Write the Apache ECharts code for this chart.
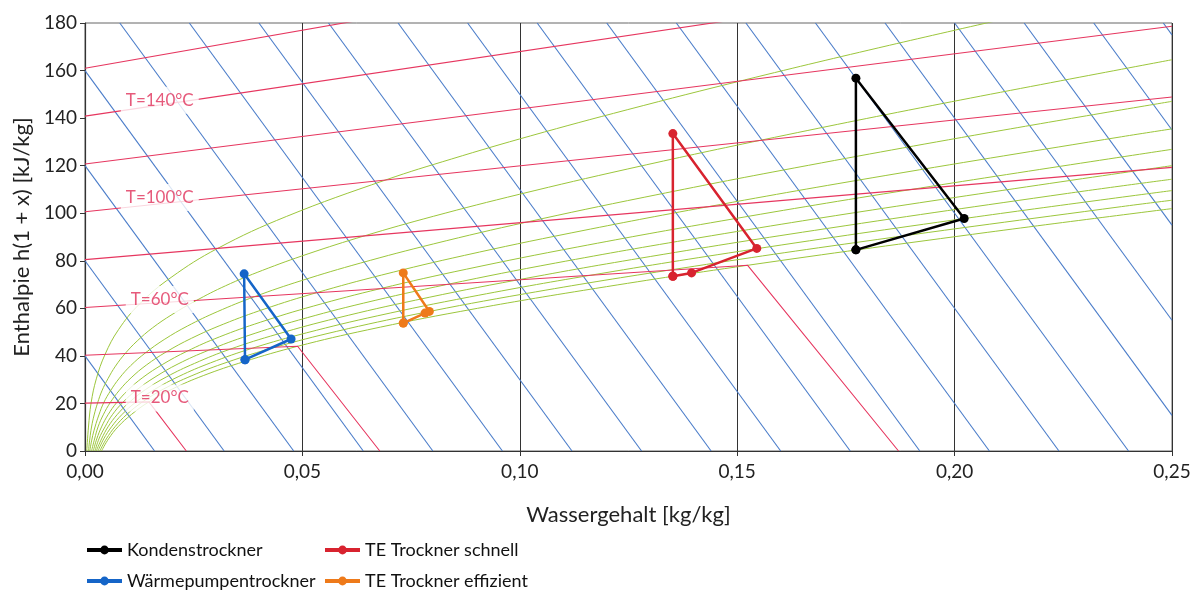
<!DOCTYPE html>
<html><head><meta charset="utf-8">
<script src="https://cdn.jsdelivr.net/npm/echarts@6/dist/echarts.min.js"></script>
<style>html,body{margin:0;padding:0;background:#fff}#c{width:1199px;height:592px}</style>
</head><body><div id="c"></div>
<script>
// ---- measured process cycles (x [kg/kg], h(1+x) [kJ/kg]) ----
const kondenstrockner = [[0.1773,84.6],[0.1773,156.8],[0.2022,97.8],[0.1773,84.6]];
const waermepumpentrockner = [[0.0368,38.4],[0.0366,74.5],[0.0474,47.1],[0.0368,38.4]];
const teSchnell = [[0.1352,73.5],[0.1352,133.5],[0.1545,85.2],[0.1395,74.9],[0.1352,73.5]];
const teEffizient = [[0.0732,53.8],[0.0732,74.9],[0.0792,58.7],[0.0782,58.0],[0.0732,53.8]];

// ---- axis tick values ----
const xTicks = [0, 0.05, 0.10, 0.15, 0.20, 0.25];
const yTicks = [0, 20, 40, 60, 80, 100, 120, 140, 160, 180];

// ---- isotherms (red) ----
const isotherms = [
  [[0,20.12],[0.0147,20.67],[0.0233,0]],
  [[0,40.24],[0.0489,44.04],[0.0678,0]],
  [[0,60.36],[0.1524,78.1],[0.1871,0]],
  [[0,80.48],[0.25,119.3]],
  [[0,100.6],[0.25,148.9]],
  [[0,120.72],[0.25,178.6]],
  [[0,140.84],[0.25,208.7]],
  [[0,160.96],[0.25,241.0]]
];
const isothermLabels = [
  {name:'T=140°C', value:[0.0172,147.5]},
  {name:'T=100°C', value:[0.0172,106.6]},
  {name:'T=60°C', value:[0.0172,63.7]},
  {name:'T=20°C', value:[0.0172,22.3]}
];

// ---- isenthalps (blue) ----
const isenthalps = [
  [[0,40],[0.016,0]],[[0,80],[0.032,0]],[[0,120],[0.048,0]],[[0,160],[0.064,0]],
  [[0.008,180],[0.080,0]],[[0.024,180],[0.096,0]],[[0.040,180],[0.112,0]],
  [[0.056,180],[0.128,0]],[[0.072,180],[0.144,0]],[[0.088,180],[0.160,0]],
  [[0.104,180],[0.176,0]],[[0.120,180],[0.192,0]],[[0.136,180],[0.208,0]],
  [[0.152,180],[0.224,0]],[[0.168,180],[0.240,0]],[[0.184,180],[0.25,15]],
  [[0.200,180],[0.25,55]],[[0.216,180],[0.25,95]],[[0.232,180],[0.25,135]],
  [[0.248,180],[0.25,175]]
];

// ---- relative humidity curves (green), phi = 1.0 ... 0.1 ----
const phi100 = [[0.0038,0],[0.0054,5.08],[0.0076,10.2],[0.0107,15.39],[0.0147,20.67],[0.0201,26.08],[0.0272,31.7],[0.0366,37.59],[0.0489,44.04],[0.0650,50.95],[0.0863,58.68],[0.1146,67.55],[0.1524,78.10],[0.2041,91.12],[0.25,101.94]];
const phi90 = [[0.0034,0],[0.0049,5.08],[0.0069,10.19],[0.0096,15.36],[0.0132,20.61],[0.0180,25.99],[0.0244,31.54],[0.0327,37.34],[0.0437,43.63],[0.0579,50.33],[0.0766,57.74],[0.1012,66.14],[0.1339,75.94],[0.1778,87.81],[0.2384,102.78],[0.25,105.46]];
const phi80 = [[0.0030,0],[0.0043,5.07],[0.0061,10.17],[0.0085,15.33],[0.0117,20.56],[0.0160,25.89],[0.0216,31.38],[0.0289,37.09],[0.0385,43.23],[0.0510,49.72],[0.0672,56.82],[0.0884,64.76],[0.1162,73.89],[0.1532,84.71],[0.2032,98.02],[0.25,109.53]];
const phi70 = [[0.0026,0],[0.0038,5.07],[0.0053,10.16],[0.0074,15.3],[0.0102,20.5],[0.0139,25.8],[0.0188,31.23],[0.0252,36.85],[0.0334,42.84],[0.0442,49.13],[0.0580,55.93],[0.0760,63.43],[0.0994,71.93],[0.1300,81.79],[0.1708,93.62],[0.2260,108.34],[0.25,114.30]];
const phi60 = [[0.0023,0],[0.0032,5.06],[0.0046,10.14],[0.0063,15.27],[0.0087,20.44],[0.0119,25.7],[0.0161,31.08],[0.0214,36.61],[0.0284,42.36],[0.0375,48.53],[0.0491,55.04],[0.0640,62.16],[0.0833,70.05],[0.1082,79.04],[0.1409,89.56],[0.1842,102.25],[0.25,120.01]];
const phi50 = [[0.0019,0],[0.0027,5.06],[0.0038,10.13],[0.0053,15.24],[0.0073,20.39],[0.0099,25.61],[0.0133,30.92],[0.0178,36.37],[0.0235,41.99],[0.0309,47.97],[0.0404,54.2],[0.0525,60.93],[0.0679,68.27],[0.0877,76.45],[0.1132,85.78],[0.1463,96.73],[0.1899,109.95],[0.25,126.87]];
const phi40 = [[0.0015,0],[0.0022,5.05],[0.0030,10.12],[0.0042,15.21],[0.0058,20.34],[0.0079,25.52],[0.0106,30.77],[0.0141,36.13],[0.0187,41.69],[0.0245,47.41],[0.0319,53.39],[0.0413,59.73],[0.0532,66.55],[0.0682,73.99],[0.0873,82.28],[0.1118,91.71],[0.1432,102.70],[0.1842,115.88],[0.2384,132.16],[0.25,135.47]];
const phi30 = [[0.0011,0],[0.0016,5.04],[0.0023,10.1],[0.0032,15.18],[0.0043,20.28],[0.0059,25.42],[0.0079,30.62],[0.0105,35.9],[0.0139,41.27],[0.0182,46.86],[0.0236,52.59],[0.0304,58.57],[0.0390,64.91],[0.0498,71.67],[0.0633,79.01],[0.0802,87.12],[0.1015,96.24],[0.1286,106.71],[0.1631,119.02],[0.2079,133.89],[0.25,147.05]];
const phi20 = [[0.0008,0],[0.0011,5.04],[0.0015,10.09],[0.0021,15.15],[0.0029,20.23],[0.0039,25.33],[0.0053,30.47],[0.0070,35.67],[0.0092,40.92],[0.0120,46.28],[0.0155,51.75],[0.0200,57.37],[0.0255,63.2],[0.0323,69.47],[0.0408,75.96],[0.0513,82.91],[0.0642,90.44],[0.0802,98.74],[0.1000,108.0],[0.1247,118.56],[0.1557,130.81],[0.1950,145.35],[0.25,164.55]];
const phi10 = [[0.0004,0],[0.0008,10.07],[0.0014,20.17],[0.0026,30.33],[0.0046,40.58],[0.0077,51.01],[0.0125,61.75],[0.0198,73.0],[0.0305,85.2],[0.0463,98.62],[0.0692,114.02],[0.0843,122.8],[0.1025,132.54],[0.1247,143.51],[0.1517,156.05],[0.1850,170.62],[0.2263,187.85]];
const humidityCurves = [phi100, phi90, phi80, phi70, phi60, phi50, phi40, phi30, phi20, phi10];

const FONT = 'Lato';
const RED = '#e6365f', BLUE = '#4a7cc9', GREEN = '#9cc63c';

const series = [];
isenthalps.forEach(d => series.push({type:'line', data:d, symbol:'none', silent:true, z:1,
  lineStyle:{color:BLUE, width:1.1}}));
humidityCurves.forEach(d => series.push({type:'line', data:d, symbol:'none', smooth:0.4, silent:true, z:2,
  lineStyle:{color:GREEN, width:1}}));
isotherms.forEach(d => series.push({type:'line', data:d, symbol:'none', silent:true, z:3,
  lineStyle:{color:RED, width:1.1}}));
series.push({type:'scatter', name:'labels', data:isothermLabels, symbolSize:0, silent:true, zlevel:1, z:5,
  label:{show:true, position:'inside', formatter:p=>p.name, color:'#e0315a', fontFamily:FONT,
    fontSize:17, backgroundColor:'#ffffff', padding:[5,5,5,5]}});
const dataSeries = [
  ['Kondenstrockner', kondenstrockner, '#000000'],
  ['Wärmepumpentrockner', waermepumpentrockner, '#1565c8'],
  ['TE Trockner schnell', teSchnell, '#d8232f'],
  ['TE Trockner effizient', teEffizient, '#ee7a1a']
];
dataSeries.forEach(([n,d,c]) => series.push({type:'line', name:n, data:d, symbol:'circle', symbolSize:9,
  zlevel:2, z:10, lineStyle:{color:c, width:2.5}, itemStyle:{color:c}}));

const legendItem = (name, left, top) => ({data:[name], left, top, itemWidth:35, itemHeight:11,
  lineStyle:{width:4}, textStyle:{fontFamily:FONT, fontSize:18, color:'#111'}, padding:0});

const chart = echarts.init(document.getElementById('c'));
chart.setOption({
  animation:false,
  backgroundColor:'#fff',
  grid:{left:85, right:27, top:23, bottom:141, show:true, borderColor:'#666', borderWidth:1},
  legend:[
    legendItem('Kondenstrockner', 85, 541),
    legendItem('TE Trockner schnell', 323, 541),
    legendItem('Wärmepumpentrockner', 85, 572),
    legendItem('TE Trockner effizient', 323, 572)
  ],
  xAxis:{type:'value', min:xTicks[0], max:xTicks[xTicks.length-1], interval:0.05,
    name:'Wassergehalt [kg/kg]', nameLocation:'middle', nameGap:53,
    nameTextStyle:{fontFamily:FONT, fontSize:22, color:'#222'},
    axisLine:{show:true, lineStyle:{color:'#333', width:1.2}},
    axisTick:{show:true, length:5, lineStyle:{color:'#333'}},
    axisLabel:{fontFamily:FONT, fontSize:19, color:'#222', margin:11,
      formatter:v=>v.toFixed(2).replace('.',',')},
    splitLine:{show:true, lineStyle:{color:'#333', width:1}}},
  yAxis:{type:'value', min:yTicks[0], max:yTicks[yTicks.length-1], interval:20,
    name:'Enthalpie h(1 + x) [kJ/kg]', nameLocation:'middle', nameGap:52,
    nameTextStyle:{fontFamily:FONT, fontSize:22, color:'#222'},
    axisLine:{show:true, lineStyle:{color:'#333', width:1.2}},
    axisTick:{show:true, length:5, lineStyle:{color:'#333'}},
    axisLabel:{fontFamily:FONT, fontSize:19, color:'#222', margin:8},
    splitLine:{show:false}},
  series
});
</script></body></html>
